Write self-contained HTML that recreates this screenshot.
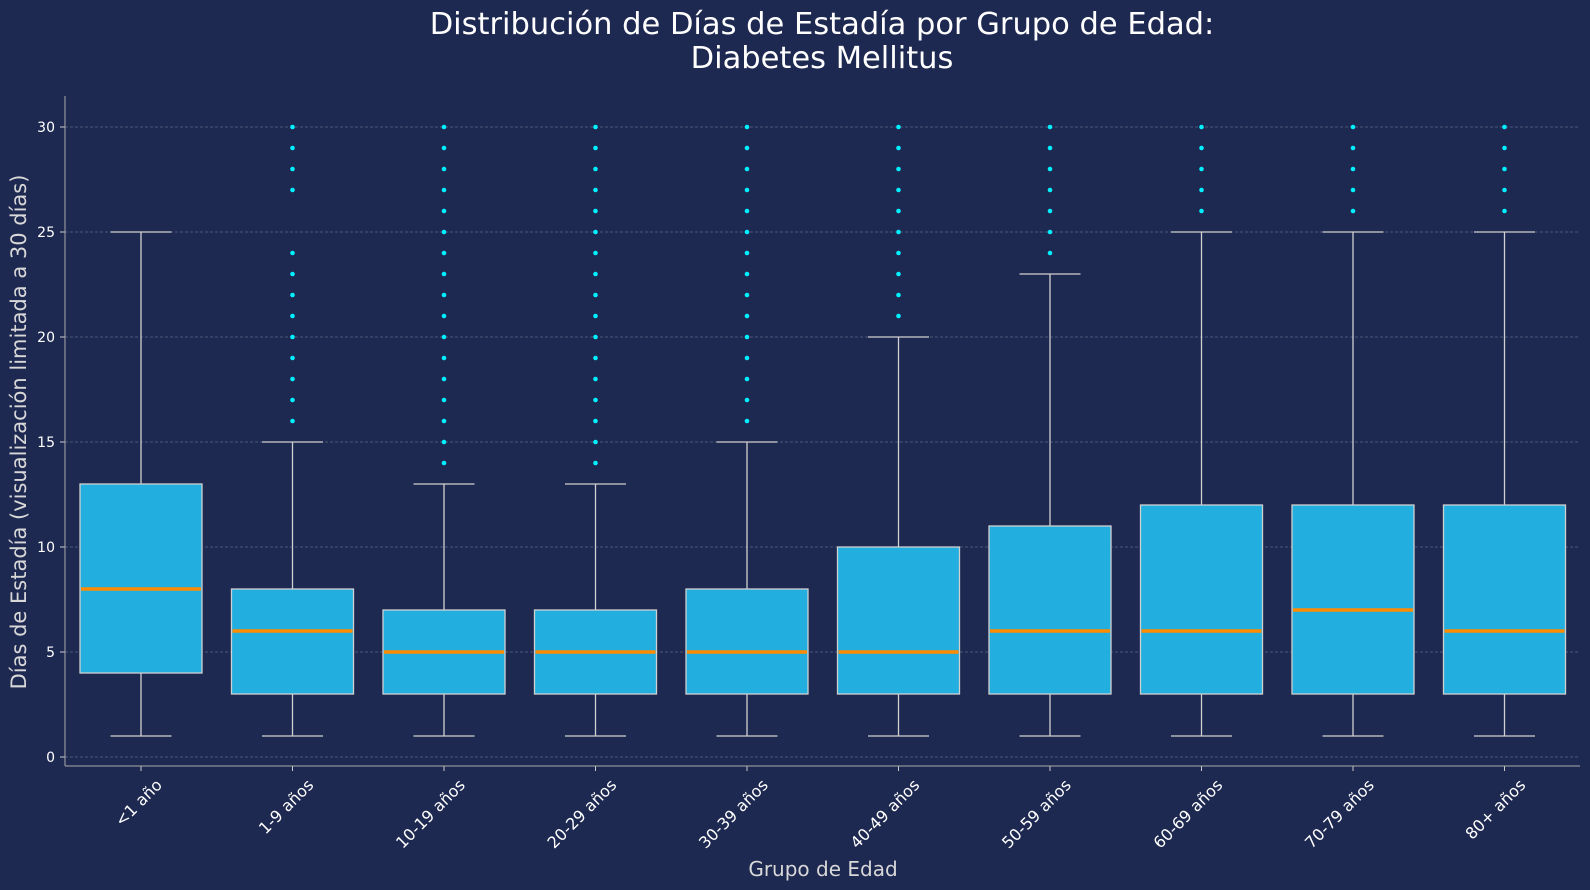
<!DOCTYPE html>
<html><head><meta charset="utf-8"><style>
html,body{margin:0;padding:0;background:#1e2951;}
svg{display:block;font-family:"DejaVu Sans","Liberation Sans",sans-serif;}
</style></head><body>
<svg id="chart" width="1590" height="890" viewBox="0 0 1590 890">
<rect width="1590" height="890" fill="#1e2951"/>
<text x="822" y="34" text-anchor="middle" fill="#ffffff" font-size="30.5" font-family="DejaVu Sans, sans-serif">Distribución de Días de Estadía por Grupo de Edad:</text>
<text x="822" y="68" text-anchor="middle" fill="#ffffff" font-size="30.5" font-family="DejaVu Sans, sans-serif">Diabetes Mellitus</text>
<g id="grid"></g><g id="marks"></g><g id="axes"></g>
<text x="823" y="876" text-anchor="middle" fill="#d8d8d8" font-size="20" font-family="DejaVu Sans, sans-serif">Grupo de Edad</text>
<text transform="translate(26,432) rotate(-90)" text-anchor="middle" fill="#d8d8d8" font-size="21" font-family="DejaVu Sans, sans-serif">Días de Estadía (visualización limitada a 30 días)</text>
</svg>
<script>
const categories=["<1 año","1-9 años","10-19 años","20-29 años","30-39 años","40-49 años","50-59 años","60-69 años","70-79 años","80+ años"];
const q1=[4,3,3,3,3,3,3,3,3,3];
const medians=[8,6,5,5,5,5,6,6,7,6];
const q3=[13,8,7,7,8,10,11,12,12,12];
const whiskerLow=[1,1,1,1,1,1,1,1,1,1];
const whiskerHigh=[25,15,13,13,15,20,23,25,25,25];
const outliers=[[],[16,17,18,19,20,21,22,23,24,27,28,29,30],[14,15,16,17,18,19,20,21,22,23,24,25,26,27,28,29,30],[14,15,16,17,18,19,20,21,22,23,24,25,26,27,28,29,30],[16,17,18,19,20,21,22,23,24,25,26,27,28,29,30],[21,22,23,24,25,26,27,28,29,30],[24,25,26,27,28,29,30],[26,27,28,29,30],[26,27,28,29,30],[26,27,28,29,30]];
const yTicks=[0,5,10,15,20,25,30];
const NS="http://www.w3.org/2000/svg";
const L=65,R=1580,T=96,B=766;
const y=v=>757-v*21;
const x=i=>141+i*151.5;
const bw=122,cw=61;
function mk(p,t,a){const e=document.createElementNS(NS,t);for(const k in a)e.setAttribute(k,a[k]);p.appendChild(e);return e;}
const grid=document.getElementById('grid'),marks=document.getElementById('marks'),axes=document.getElementById('axes');
yTicks.forEach(v=>{
 const g=mk(grid,'line',{x1:L,x2:R,y1:y(v),y2:y(v),stroke:'#5a6585','stroke-width':0.8,'stroke-dasharray':'3,2'});
 
 
 const t=mk(axes,'line',{x1:L-5,x2:L,y1:y(v),y2:y(v),stroke:'#cccccc'});
 
 
 const lb=mk(axes,'text',{x:L-10,y:y(v)+5,'text-anchor':'end',fill:'#ffffff','font-size':14});
 lb.textContent=v;
 
 
});
categories.forEach((c,i)=>{
 const cx=x(i);
 const g=mk(marks,'g',{});
 
 
 const st={stroke:'#d0d0d0','stroke-width':1.3};
 mk(g,'line',Object.assign({x1:cx,x2:cx,y1:y(q1[i]),y2:y(whiskerLow[i])},st));
 mk(g,'line',Object.assign({x1:cx,x2:cx,y1:y(q3[i]),y2:y(whiskerHigh[i])},st));
 mk(g,'line',Object.assign({x1:cx-cw/2,x2:cx+cw/2,y1:y(whiskerLow[i]),y2:y(whiskerLow[i])},st));
 mk(g,'line',Object.assign({x1:cx-cw/2,x2:cx+cw/2,y1:y(whiskerHigh[i]),y2:y(whiskerHigh[i])},st));
 mk(g,'rect',Object.assign({x:cx-bw/2,y:y(q3[i]),width:bw,height:y(q1[i])-y(q3[i]),fill:'#22aede'},st));
 mk(g,'line',{x1:cx-bw/2+1,x2:cx+bw/2-1,y1:y(medians[i]),y2:y(medians[i]),stroke:'#ff8c00','stroke-width':3.5});
 outliers[i].forEach(o=>{
  const d=mk(g,'circle',{cx:cx,cy:y(o),r:2.3,fill:'#00f0ff'});
  
  
 });
 const t=mk(axes,'line',{x1:cx,x2:cx,y1:B,y2:B+5,stroke:'#cccccc'});
 
 
 const ax=cx+22,ay=B+20;
 const lb=mk(axes,'text',{x:ax,y:ay,'text-anchor':'end',fill:'#ffffff','font-size':16,transform:`rotate(-45 ${ax} ${ay})`});
 lb.textContent=c;
 
 
});
const s1=mk(axes,'line',{x1:L,x2:L,y1:T,y2:B,stroke:'#aaaaaa','stroke-width':1});


const s2=mk(axes,'line',{x1:L,x2:R,y1:B,y2:B,stroke:'#aaaaaa','stroke-width':1});


</script>
</body></html>
